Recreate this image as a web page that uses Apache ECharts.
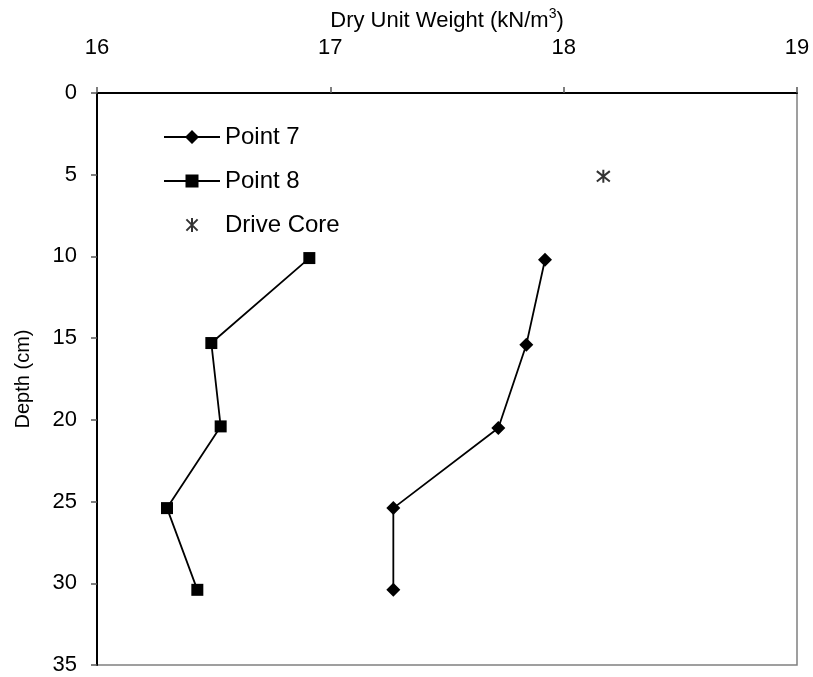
<!DOCTYPE html>
<html>
<head>
<meta charset="utf-8">
<script src="https://cdn.jsdelivr.net/npm/echarts@6/dist/echarts.min.js"></script>
<style>html,body{margin:0;padding:0;background:#fff;}#c{width:813px;height:677px;}</style>
</head>
<body>
<div id="c"></div>
<script>
const xTicks = [16, 17, 18, 19];
const yTicks = [0, 5, 10, 15, 20, 25, 30, 35];
const point7Weight = [17.92, 17.84, 17.72, 17.27, 17.27];
const point7Depth = [10.2, 15.4, 20.5, 25.4, 30.4];
const point8Weight = [16.91, 16.49, 16.53, 16.30, 16.43];
const point8Depth = [10.1, 15.3, 20.4, 25.4, 30.4];
const driveWeight = [18.17];
const driveDepth = [5.1];

const pairs = (xs, ys) => xs.map((v, i) => [v, ys[i]]);
const font = 'Liberation Sans, Arial, sans-serif';
const lineWithDiamond = 'path://M0,6.1L56,6.1L56,7.9L0,7.9ZM28,0L35,7L28,14L21,7Z';
const lineWithSquare = 'path://M0,6.1L56,6.1L56,7.9L0,7.9ZM21.5,0.5L34.5,0.5L34.5,13.5L21.5,13.5Z';
const chart = echarts.init(document.getElementById('c'));
chart.setOption({
  animation: false,
  backgroundColor: '#fff',
  grid: { left: 97, right: 16, top: 93, bottom: 12, show: true, borderColor: '#808080', borderWidth: 1.5, backgroundColor: 'transparent' },
  legend: {
    orient: 'vertical', left: 159, top: 120, itemWidth: 56, itemHeight: 14, itemGap: 20,
    textStyle: { fontFamily: font, fontSize: 24, color: '#000' },
    data: [
      { name: 'Point 7', icon: lineWithDiamond },
      { name: 'Point 8', icon: lineWithSquare },
      { name: 'Drive Core' }
    ]
  },
  xAxis: {
    type: 'value', position: 'top', min: xTicks[0], max: xTicks[xTicks.length - 1], interval: 1,
    name: 'Dry Unit Weight (kN/m{sup|3})', nameLocation: 'middle', nameGap: 57,
    nameTextStyle: { fontFamily: font, fontSize: 22, color: '#000',
      rich: { sup: { fontFamily: font, fontSize: 14, color: '#000', verticalAlign: 'top', padding: [0, 0, 13, 0] } } },
    axisLine: { show: true, lineStyle: { color: '#000', width: 2 } },
    axisTick: { show: true, inside: false, length: 6, lineStyle: { color: '#555', width: 1.5 } },
    axisLabel: { fontFamily: font, fontSize: 22, color: '#000', margin: 34 },
    splitLine: { show: false }
  },
  yAxis: {
    type: 'value', inverse: true, min: yTicks[0], max: yTicks[yTicks.length - 1], interval: 5,
    name: 'Depth (cm)', nameLocation: 'middle', nameGap: 64, nameRotate: 90,
    nameTextStyle: { fontFamily: font, fontSize: 20, color: '#000' },
    axisLine: { show: true, lineStyle: { color: '#000', width: 2 } },
    axisTick: { show: true, inside: false, length: 6, lineStyle: { color: '#555', width: 1.5 } },
    axisLabel: { fontFamily: font, fontSize: 22, color: '#000', margin: 20 },
    splitLine: { show: false }
  },
  series: [
    {
      name: 'Point 7', type: 'line', data: pairs(point7Weight, point7Depth),
      symbol: 'diamond', symbolSize: 14, showAllSymbol: true,
      lineStyle: { color: '#000', width: 1.8 }, itemStyle: { color: '#000' }
    },
    {
      name: 'Point 8', type: 'line', data: pairs(point8Weight, point8Depth),
      symbol: 'rect', symbolSize: 12, showAllSymbol: true,
      lineStyle: { color: '#000', width: 1.8 }, itemStyle: { color: '#000' }
    },
    {
      name: 'Drive Core', type: 'scatter', data: pairs(driveWeight, driveDepth),
      symbol: 'path://M10,0L10,20M2,2L18,18M2,18L18,2', symbolSize: 13,
      itemStyle: { color: 'none', borderColor: '#000', borderWidth: 2 }
    }
  ]
});
</script>
</body>
</html>
